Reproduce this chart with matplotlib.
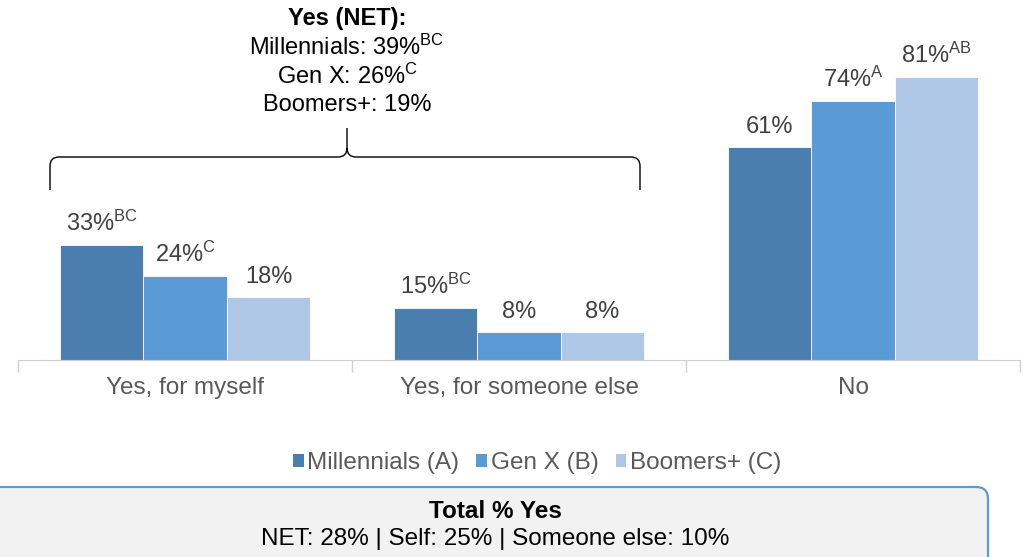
import matplotlib
matplotlib.use("Agg")
import matplotlib.pyplot as plt
from matplotlib.patches import FancyBboxPatch, Patch, PathPatch
from matplotlib.path import Path

plt.rcParams["font.family"] = ["Liberation Sans", "DejaVu Sans"]
plt.rcParams["mathtext.fontset"] = "custom"
plt.rcParams["mathtext.rm"] = "Liberation Sans"
plt.rcParams["mathtext.it"] = "Liberation Sans"

categories = ["Yes, for myself", "Yes, for someone else", "No"]
groups = ["Millennials (A)", "Gen X (B)", "Boomers+ (C)"]
millennials = [33, 15, 61]
gen_x = [24, 8, 74]
boomers = [18, 8, 81]
millennials_sig = ["BC", "BC", ""]
gen_x_sig = ["C", "", "A"]
boomers_sig = ["", "", "AB"]
colors = ["#4A7EAF", "#5B9BD5", "#AFC7E6"]

net_names = ["Millennials", "Gen X", "Boomers+"]
net_yes = [39, 26, 19]
net_sig = ["BC", "C", ""]
total_net, total_self, total_other = 28, 25, 10

W, H = 1026, 557
fig = plt.figure(figsize=(W / 100, H / 100), dpi=100)

base_px, top_px = 360, 10
ax = fig.add_axes([18 / W, (H - base_px) / H, 1002 / W, (base_px - top_px) / H])
ax.set_xlim(-0.5, 2.5)
ax.set_ylim(0, 100)

bar_w = 0.25
series = [(millennials, millennials_sig), (gen_x, gen_x_sig), (boomers, boomers_sig)]


def label_text(v, sup):
    txt = f"{v}%"
    if sup:
        txt += r"$^{\mathrm{" + sup + "}}$"
    return txt


for i, (vals, sigs) in enumerate(series):
    xs = [c + (i - 1) * bar_w for c in range(len(categories))]
    bars = ax.bar(xs, vals, width=bar_w, color=colors[i], edgecolor="white",
                  linewidth=0.6, label=groups[i])
    for b, v, s in zip(bars, vals, sigs):
        ax.annotate(label_text(v, s), (b.get_x() + b.get_width() / 2, v),
                    xytext=(0, 10), textcoords="offset points",
                    ha="center", va="baseline", fontsize=17, color="#404040")

for side in ["top", "left", "right"]:
    ax.spines[side].set_visible(False)
ax.spines["bottom"].set_color("#D0D0D0")
ax.set_yticks([])
ax.set_xticks(range(len(categories)))
ax.set_xticklabels(categories, fontsize=17.5, color="#595959")
ax.tick_params(axis="x", which="major", length=0, pad=12)
ax.set_xticks([-0.5, 0.5, 1.5, 2.5], minor=True)
ax.tick_params(axis="x", which="minor", length=8.5, color="#D0D0D0", width=1)

# overlay in pixel coordinates for the brace, net summary and total box
ov = fig.add_axes([0, 0, 1, 1], zorder=5)
ov.set_xlim(0, W)
ov.set_ylim(H, 0)
ov.axis("off")
ov.patch.set_alpha(0)

cx, y0, y_end, y_tip, x_l, x_r, r = 347, 157, 190, 128, 50, 640, 9
verts = [
    (x_l, y_end), (x_l, y0 + r), (x_l, y0), (x_l + r, y0),
    (cx - r, y0), (cx, y0), (cx, y0 - r), (cx, y_tip),
    (cx, y0 - r), (cx, y0), (cx + r, y0),
    (x_r - r, y0), (x_r, y0), (x_r, y0 + r), (x_r, y_end),
]
codes = [
    Path.MOVETO, Path.LINETO, Path.CURVE3, Path.CURVE3,
    Path.LINETO, Path.CURVE3, Path.CURVE3, Path.LINETO,
    Path.MOVETO, Path.CURVE3, Path.CURVE3,
    Path.LINETO, Path.CURVE3, Path.CURVE3, Path.LINETO,
]
ov.add_patch(PathPatch(Path(verts, codes), fill=False, lw=1, edgecolor="black"))

ov.text(cx, 18, "Yes (NET):", ha="center", va="center", fontsize=17,
        fontweight="bold", color="black")
for k, (name, v, s) in enumerate(zip(net_names, net_yes, net_sig)):
    ov.text(cx, 47 + 29 * k, f"{name}: " + label_text(v, s), ha="center",
            va="center", fontsize=17, color="black")

handles = [Patch(facecolor=c, edgecolor="none") for c in colors]
fig.legend(handles, groups, loc="center", bbox_to_anchor=(537 / W, 1 - 463 / H),
           ncol=3, frameon=False, fontsize=17.5, handlelength=0.45,
           handleheight=0.45, handletextpad=0.15, columnspacing=0.7,
           labelcolor="#595959")

ov.add_patch(FancyBboxPatch((-20, 487), 1008, 90,
                            boxstyle="round,pad=0,rounding_size=12",
                            facecolor="#F2F2F2", edgecolor="#5B9BD5", lw=1.6))
ov.text(495, 511, "Total % Yes", ha="center", va="center", fontsize=17.5,
        fontweight="bold", color="black")
ov.text(495, 539, f"NET: {total_net}% | Self: {total_self}% | Someone else: {total_other}%",
        ha="center", va="center", fontsize=17.5, color="black")

fig.savefig("out.png", dpi=100)
